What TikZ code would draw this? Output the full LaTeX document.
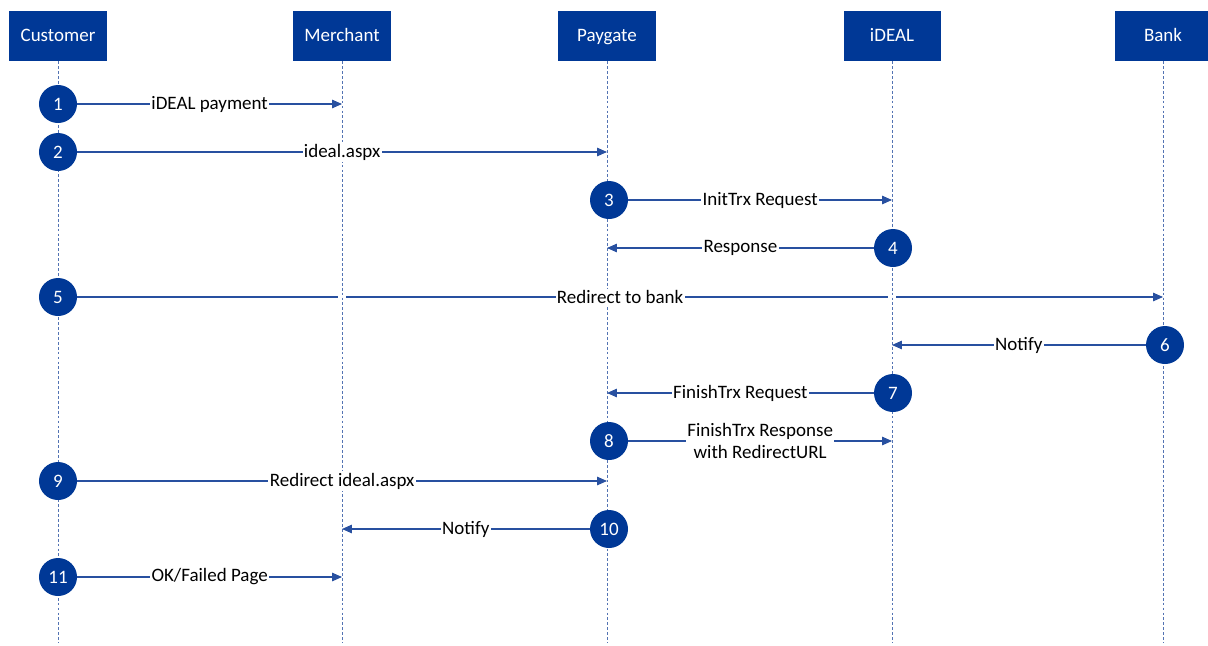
\documentclass[tikz,border=0pt]{standalone}
\usepackage{fontspec}
\setmainfont{Carlito}
\usepackage{xcolor}
\usetikzlibrary{arrows.meta,calc,backgrounds}
\definecolor{idealblue}{RGB}{0,56,150}
\definecolor{msgblue}{RGB}{40,80,160}

\begin{document}
\begin{tikzpicture}[x=0.025cm, y=-0.025cm, font=\fontsize{13.5}{15.5}\selectfont,
    actor/.style={fill=idealblue, text=white, minimum width=2.425cm, minimum height=1.25cm, inner sep=0pt,
        text height=1.5ex, text depth=0pt},
    stepnum/.style={circle, fill=idealblue, text=white, minimum size=0.95cm, inner sep=0pt},
    msg/.style={draw=msgblue, line width=0.8pt, -{Triangle[length=7pt, width=6pt]}},
    lbl/.style={fill=white, inner sep=1pt, text=black, align=center},
    life/.style={draw=msgblue!80, line width=0.7pt, dash pattern=on 2pt off 1.5pt}]
    \useasboundingbox (0,0) rectangle (1208,645);

    % Actors
    \node[actor] (cust)  at (58,36)   {Customer};
    \node[actor] (merch) at (342,36)  {Merchant};
    \node[actor] (pay)   at (607,36)  {Paygate};
    \node[actor] (ideal) at (892,36)  {iDEAL};
    \node[actor] (bank)  at (1163,36) {Bank};

    \coordinate (custend)  at (58,643);
    \coordinate (merchend) at (342,643);
    \coordinate (payend)   at (607,643);
    \coordinate (idealend) at (892,643);
    \coordinate (bankend)  at (1163,643);

    % Steps
    \node[stepnum] (s1)  at (58,104)   {1};
    \node[stepnum] (s2)  at (58,152)   {2};
    \node[stepnum] (s3)  at (609,200)  {3};
    \node[stepnum] (s4)  at (893,248)  {4};
    \node[stepnum] (s5)  at (58,297)   {5};
    \node[stepnum] (s6)  at (1165,345) {6};
    \node[stepnum] (s7)  at (893,393)  {7};
    \node[stepnum] (s8)  at (609,441)  {8};
    \node[stepnum] (s9)  at (58,481)   {9};
    \node[stepnum] (s10) at (609,529)  {10};
    \node[stepnum] (s11) at (58,577)   {11};

    % Messages
    \draw[msg] (s1)  -- node[lbl] {iDEAL payment} (s1 -| merch);
    \draw[msg] (s2)  -- node[lbl] {ideal.aspx} (s2 -| pay);
    \draw[msg] (s3)  -- node[lbl] {InitTrx Request} (s3 -| ideal);
    \draw[msg] (s4)  -- node[lbl] {Response} (s4 -| pay);
    \path (s5) -- node[lbl] {Redirect to bank} (s5 -| bank);
    \draw[msg] (s6)  -- node[lbl] {Notify} (s6 -| ideal);
    \draw[msg] (s7)  -- node[lbl] {FinishTrx Request} (s7 -| pay);
    \draw[msg] (s8)  -- node[lbl] {FinishTrx Response\\with RedirectURL} (s8 -| ideal);
    \draw[msg] (s9)  -- node[lbl] {Redirect ideal.aspx} (s9 -| pay);
    \draw[msg] (s10) -- node[lbl] {Notify} (s10 -| merch);
    \draw[msg] (s11) -- node[lbl] {OK/Failed Page} (s11 -| merch);

    % Lifelines (and step 5 with its gaps) behind everything
    \begin{scope}[on background layer]
        \draw[msg] (s5) -- (s5 -| bank);
        \foreach \who in {merch,ideal}
            \draw[white, line width=5pt] ($(s5 -| \who)+(0,-3)$) -- ($(s5 -| \who)+(0,3)$);
        \foreach \who in {cust,merch,pay,ideal,bank}
            \draw[life] (\who.south) -- (\who end);
    \end{scope}
\end{tikzpicture}
\end{document}
